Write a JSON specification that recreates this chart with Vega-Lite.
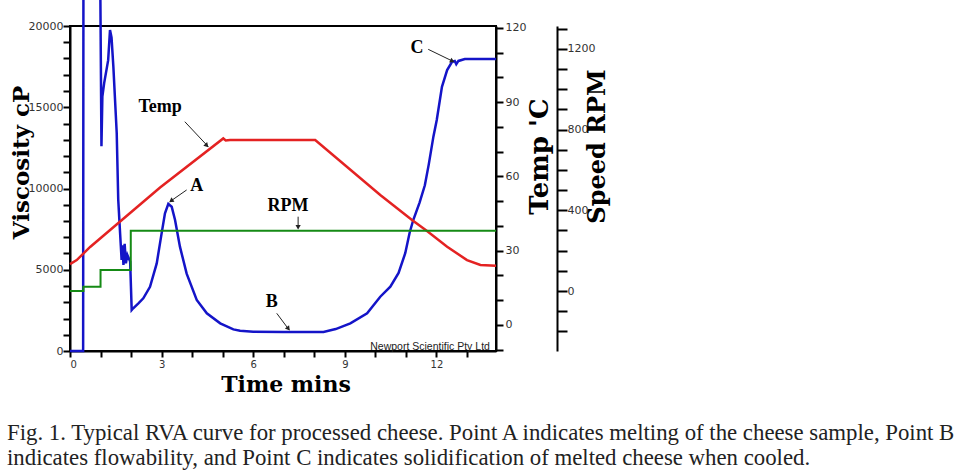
{
  "$schema": "https://vega.github.io/schema/vega-lite/v6.json",
  "width": 426,
  "height": 325,
  "autosize": {"type": "none"},
  "padding": {"left": 70, "top": 26, "right": 466, "bottom": 120},
  "background": "white",
  "config": {
    "view": {"stroke": "black", "strokeWidth": 2},
    "axis": {
      "grid": false,
      "domainColor": "black",
      "domainWidth": 2,
      "tickColor": "black",
      "tickWidth": 2,
      "labelFont": "DejaVu Sans",
      "labelFontSize": 11,
      "labelColor": "#333",
      "labelOverlap": false,
      "titleFont": "DejaVu Serif",
      "titleFontWeight": "bold",
      "titleColor": "black",
      "titleAlign": "center",
      "titleBaseline": "middle"
    }
  },
  "title": {
    "text": [
      "Fig. 1. Typical RVA curve for processed cheese. Point A indicates melting of the cheese sample, Point B",
      "indicates flowability, and Point C indicates solidification of melted cheese when cooled."
    ],
    "orient": "bottom",
    "anchor": "start",
    "frame": "bounds",
    "offset": 27,
    "dx": -3,
    "font": "Liberation Serif",
    "fontSize": 22.8,
    "fontWeight": "normal",
    "color": "#222",
    "lineHeight": 25
  },
  "encoding": {
    "x": {
      "field": "t", "type": "quantitative",
      "scale": {"domain": [0, 13.95], "nice": false, "zero": false},
      "axis": {
        "values": [0,1,2,3,4,5,6,7,8,9,10,11,12,13],
        "labelExpr": "datum.value % 3 === 0 ? format(datum.value, 'd') : ''",
        "labelOverlap": false,
        "labelFontSize": 10,
        "tickSize": 6,
        "labelPadding": 2,
        "title": "Time mins",
        "titleFontSize": 22,
        "titleX": 215.5,
        "titleY": 33
      }
    }
  },
  "layer": [
    {
      "data": {"values": [
        {"t": 0, "v": 0}, {"t": 0.43, "v": 0}, {"t": 0.44, "v": 23000}, {"t": 0.99, "v": 23000},
        {"t": 1.03, "v": 12600}, {"t": 1.06, "v": 15650}, {"t": 1.12, "v": 16500}, {"t": 1.25, "v": 17900},
        {"t": 1.31, "v": 19750}, {"t": 1.36, "v": 19300}, {"t": 1.42, "v": 17500}, {"t": 1.53, "v": 13400},
        {"t": 1.58, "v": 9300}, {"t": 1.64, "v": 7260}, {"t": 1.69, "v": 5600}, {"t": 1.72, "v": 6500},
        {"t": 1.75, "v": 5300}, {"t": 1.79, "v": 6600}, {"t": 1.83, "v": 5400}, {"t": 1.88, "v": 5900},
        {"t": 1.97, "v": 5500}, {"t": 2.02, "v": 2520}, {"t": 2.07, "v": 2630}, {"t": 2.24, "v": 2935},
        {"t": 2.4, "v": 3240}, {"t": 2.62, "v": 3950}, {"t": 2.84, "v": 5390}, {"t": 3.0, "v": 7240},
        {"t": 3.11, "v": 8470}, {"t": 3.22, "v": 9050}, {"t": 3.33, "v": 8880}, {"t": 3.44, "v": 8060},
        {"t": 3.6, "v": 6420}, {"t": 3.82, "v": 4760}, {"t": 4.15, "v": 3140}, {"t": 4.48, "v": 2320},
        {"t": 4.92, "v": 1700}, {"t": 5.35, "v": 1330}, {"t": 5.57, "v": 1250}, {"t": 6.0, "v": 1190},
        {"t": 7.0, "v": 1170}, {"t": 8.3, "v": 1170}, {"t": 8.7, "v": 1350}, {"t": 9.18, "v": 1700},
        {"t": 9.73, "v": 2320}, {"t": 10.16, "v": 3340}, {"t": 10.49, "v": 3960}, {"t": 10.76, "v": 4800},
        {"t": 10.98, "v": 6030}, {"t": 11.12, "v": 7260}, {"t": 11.24, "v": 8060}, {"t": 11.45, "v": 9150},
        {"t": 11.62, "v": 10200}, {"t": 11.75, "v": 11500}, {"t": 11.9, "v": 13190}, {"t": 12.01, "v": 14220},
        {"t": 12.18, "v": 16260}, {"t": 12.35, "v": 17290}, {"t": 12.51, "v": 17800}, {"t": 12.6, "v": 17850},
        {"t": 12.65, "v": 17650}, {"t": 12.72, "v": 17850}, {"t": 12.93, "v": 17970}, {"t": 13.95, "v": 17970}
      ]},
      "mark": {"type": "line", "color": "#1414c8", "strokeWidth": 2.5, "clip": false},
      "encoding": {
        "y": {
          "field": "v", "type": "quantitative",
          "scale": {"domain": [0, 20000], "nice": false},
          "axis": {
            "orient": "left",
            "values": [0,1000,2000,3000,4000,5000,6000,7000,8000,9000,10000,11000,12000,13000,14000,15000,16000,17000,18000,19000,20000],
            "labelExpr": "datum.value % 5000 === 0 ? format(datum.value, 'd') : ''",
            "labelOverlap": false,
            "tickSize": 7,
            "labelPadding": 0,
            "title": "Viscosity cP",
            "titleFontSize": 23,
            "titleAngle": -90,
            "titleX": -49,
            "titleY": 136
          }
        }
      }
    },
    {
      "data": {"values": [
        {"t": 0, "T": 24.6}, {"t": 0.22, "T": 26.2}, {"t": 0.66, "T": 31.5}, {"t": 2.95, "T": 55.5},
        {"t": 5.02, "T": 75.3}, {"t": 5.1, "T": 74.5}, {"t": 5.24, "T": 74.7}, {"t": 8.03, "T": 74.7},
        {"t": 10.16, "T": 52.5}, {"t": 11.2, "T": 42.4}, {"t": 11.68, "T": 38.0}, {"t": 12.35, "T": 31.6},
        {"t": 13.0, "T": 26.2}, {"t": 13.44, "T": 24.2}, {"t": 13.95, "T": 23.9}
      ]},
      "mark": {"type": "line", "color": "#e42222", "strokeWidth": 2.5},
      "encoding": {
        "y": {
          "field": "T", "type": "quantitative",
          "scale": {"domain": [-10.5, 120.7], "nice": false, "zero": false},
          "axis": {
            "orient": "right",
            "values": [-10,0,10,20,30,40,50,60,70,80,90,100,110,120],
            "labelExpr": "datum.value % 30 === 0 ? format(datum.value, 'd') : ''",
            "labelOverlap": false,
            "tickSize": 7,
            "labelPadding": 2,
            "title": "Temp 'C",
            "titleFontSize": 26,
            "titleAngle": -90,
            "titleX": 43,
            "titleY": 130
          }
        }
      }
    },
    {
      "data": {"values": [
        {"t": 0, "R": 0}, {"t": 0.44, "R": 21}, {"t": 1.0, "R": 104}, {"t": 1.99, "R": 299}, {"t": 13.95, "R": 299}
      ]},
      "mark": {"type": "line", "color": "#158a15", "strokeWidth": 2, "interpolate": "step-after"},
      "encoding": {
        "y": {
          "field": "R", "type": "quantitative",
          "scale": {"domain": [-297.5, 1314], "nice": false, "zero": false},
          "axis": {
            "orient": "right",
            "offset": 61,
            "values": [-200,-100,0,100,200,300,400,500,600,700,800,900,1000,1100,1200,1300],
            "labelExpr": "datum.value % 400 === 0 && datum.value >= 0 ? format(datum.value, 'd') : ''",
            "labelOverlap": false,
            "tickSize": 10,
            "labelPadding": 0,
            "title": "Speed RPM",
            "titleFontSize": 24,
            "titleAngle": -90,
            "titleX": 40,
            "titleY": 120
          }
        }
      }
    },
    {
      "data": {"values": [
        {"t": 2.95, "v": 15015, "label": "Temp"},
        {"t": 4.15, "v": 10150, "label": "A"},
        {"t": 7.14, "v": 8920, "label": "RPM"},
        {"t": 6.61, "v": 3015, "label": "B"},
        {"t": 11.36, "v": 18650, "label": "C"}
      ]},
      "mark": {"type": "text", "font": "Liberation Serif", "fontWeight": "bold", "fontSize": 18, "align": "center", "baseline": "middle", "color": "black"},
      "encoding": {
        "y": {"field": "v", "type": "quantitative", "scale": {"domain": [0, 20000], "nice": false}, "axis": null},
        "text": {"field": "label"}
      }
    },
    {
      "data": {"values": [
        {"t": 3.76, "v": 14110, "t2": 4.53, "v2": 12570},
        {"t": 3.82, "v": 9910, "t2": 3.27, "v2": 9190},
        {"t": 7.47, "v": 8265, "t2": 7.47, "v2": 7550},
        {"t": 6.77, "v": 2320, "t2": 7.18, "v2": 1290},
        {"t": 11.73, "v": 18565, "t2": 12.57, "v2": 17800}
      ]},
      "mark": {"type": "rule", "color": "#222", "strokeWidth": 1},
      "encoding": {
        "y": {"field": "v", "type": "quantitative", "scale": {"domain": [0, 20000], "nice": false}, "axis": null},
        "x2": {"field": "t2"},
        "y2": {"field": "v2"}
      }
    },
    {
      "data": {"values": [
        {"t": 4.48, "v": 12640, "dir": 137},
        {"t": 3.31, "v": 9240, "dir": 235},
        {"t": 7.47, "v": 7620, "dir": 180},
        {"t": 7.15, "v": 1370, "dir": 143},
        {"t": 12.52, "v": 17840, "dir": 116}
      ]},
      "mark": {"type": "point", "shape": "triangle-up", "filled": true, "color": "#222", "size": 28, "opacity": 1},
      "encoding": {
        "y": {"field": "v", "type": "quantitative", "scale": {"domain": [0, 20000], "nice": false}, "axis": null},
        "angle": {"field": "dir", "type": "quantitative", "scale": null}
      }
    },
    {
      "data": {"values": [{"t": 13.75, "v": 246, "label": "Newport Scientific Pty Ltd"}]},
      "mark": {"type": "text", "font": "Liberation Sans", "fontSize": 10.5, "align": "right", "baseline": "middle", "color": "#222"},
      "encoding": {
        "y": {"field": "v", "type": "quantitative", "scale": {"domain": [0, 20000], "nice": false}, "axis": null},
        "text": {"field": "label"}
      }
    }
  ],
  "resolve": {"scale": {"y": "independent"}, "axis": {"y": "independent"}}
}
